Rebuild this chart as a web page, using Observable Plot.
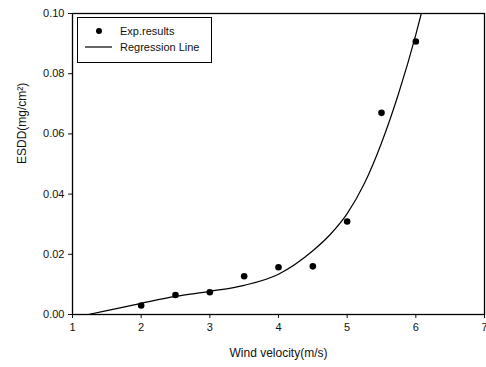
<!DOCTYPE html>
<html><head><meta charset="utf-8">
<script src="https://cdn.jsdelivr.net/npm/d3@7"></script>
<script src="https://cdn.jsdelivr.net/npm/@observablehq/plot@0.6"></script>
<style>
body{margin:0;background:#fff;font-family:"Liberation Sans",Arial,sans-serif;}
#wrap{position:relative;width:486px;height:367px;}
#legend{position:absolute;left:77px;top:17px;width:133px;height:44px;border:1.5px solid #000;background:#fff;font-size:11px;color:#111;}
#legend .row{position:absolute;left:0;height:14px;display:flex;align-items:center;}
</style></head><body>
<div id="wrap"></div>
<script>
const expX = [2, 2.5, 3, 3.5, 4, 4.5, 5, 5.5, 6];
const expY = [0.003, 0.0065, 0.0074, 0.0127, 0.0157, 0.016, 0.0309, 0.067, 0.0907];
const regX = [1.23, 1.5, 2, 2.5, 3, 3.5, 4, 4.5, 4.75, 5, 5.25, 5.5, 5.75, 6, 6.08];
const regY = [0, 0.0013, 0.0037, 0.006, 0.0077, 0.0097, 0.0134, 0.0212, 0.0265, 0.0335, 0.0435, 0.057, 0.0735, 0.093, 0.1];
const xTicks = [1, 2, 3, 4, 5, 6, 7];
const yTicks = [0, 0.02, 0.04, 0.06, 0.08, 0.10];
const xLabel = "Wind velocity(m/s)";
const yLabel = "ESDD(mg/cm²)";

const exp = expX.map((x, i) => ({x, y: expY[i]}));
const reg = regX.map((x, i) => ({x, y: regY[i]}));

const chart = Plot.plot({
  width: 486, height: 367,
  marginLeft: 72, marginRight: 2, marginTop: 13, marginBottom: 53,
  style: {fontFamily: "'Liberation Sans', Arial, sans-serif", fontSize: "11px", color: "#111", background: "#fff"},
  x: {domain: [1, 7], ticks: xTicks, tickFormat: d3.format("d"), tickSize: 4, tickPadding: 5, label: null},
  y: {domain: [0, 0.1], ticks: yTicks, tickFormat: d3.format(".2f"), tickSize: 4, tickPadding: 4, label: null},
  marks: [
    Plot.frame({stroke: "#000", strokeWidth: 1.3}),
    Plot.line(reg, {x: "x", y: "y", curve: "monotone-x", stroke: "#000", strokeWidth: 1.2, clip: true}),
    Plot.dot(exp, {x: "x", y: "y", r: 3.3, fill: "#000", stroke: "none"}),
    Plot.text([xLabel], {frameAnchor: "bottom", dy: 42, text: d => d, fontSize: 12, fill: "#111"}),
    Plot.text([yLabel], {frameAnchor: "left", dx: -50, rotate: -90, text: d => d, fontSize: 12, fill: "#111"})
  ]
});
document.getElementById("wrap").appendChild(chart);
// keep the last x tick label inside the picture
const xt = d3.select(chart).selectAll("g[aria-label='x-axis tick label'] text").nodes();
if (xt.length) d3.select(xt[xt.length - 1]).attr("text-anchor", "end").attr("dx", "3");

const lg = document.createElement("div");
lg.id = "legend";
lg.innerHTML = `
<div class="row" style="top:6px"><svg width="40" height="14"><circle cx="21" cy="7" r="3" fill="#000"/></svg><span style="margin-left:2px">Exp.results</span></div>
<div class="row" style="top:22px"><svg width="40" height="14"><line x1="7" x2="34" y1="7" y2="7" stroke="#000" stroke-width="1.2"/></svg><span style="margin-left:2px">Regression Line</span></div>`;
document.getElementById("wrap").appendChild(lg);
</script>
</body></html>
